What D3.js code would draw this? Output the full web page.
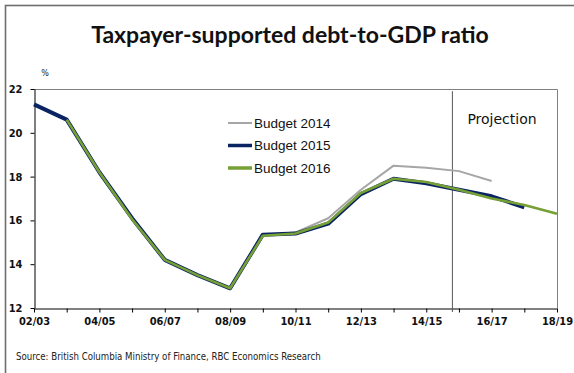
<!DOCTYPE html>
<html><head><meta charset="utf-8">
<script src="https://cdn.jsdelivr.net/npm/d3@7"></script>
<style>html,body{margin:0;padding:0;background:#fff;}svg{display:block;}</style>
</head><body>
<svg id="c" width="574" height="373"></svg>
<script>
const categories = ["02/03","03/04","04/05","05/06","06/07","07/08","08/09","09/10","10/11","11/12","12/13","13/14","14/15","15/16","16/17","17/18","18/19"];
const tickLabels = ["02/03","04/05","06/07","08/09","10/11","12/13","14/15","16/17","18/19"];
const yTicks = [12,14,16,18,20,22];
const budget2014 = [21.3,20.6,18.2,16.1,14.2,13.5,12.9,15.35,15.45,16.1,17.4,18.5,18.4,18.25,17.8,null,null];
const budget2015 = [21.3,20.6,18.2,16.1,14.2,13.5,12.9,15.35,15.4,15.85,17.2,17.9,17.7,17.4,17.1,16.6,null];
const budget2016 = [null,20.6,18.2,16.05,14.2,13.5,12.9,15.3,15.4,15.9,17.25,17.9,17.75,17.4,17.0,16.7,16.3];
const seriesNames = ["Budget 2014","Budget 2015","Budget 2016"];
const projectionIndex = 12.8;

const svg = d3.select("#c");
const W = 574, H = 373;
const m = {left:34, right:17, top:89, bottom:65};
const x = d3.scalePoint().domain(categories).range([m.left, W - m.right]);
const xi = d3.scaleLinear().domain([0, categories.length - 1]).range([m.left, W - m.right]);
const y = d3.scaleLinear().domain([12,22]).range([H - m.bottom, m.top]);

// outer frame
svg.append("rect").attr("x",5.5).attr("y",5.5).attr("width",W+10).attr("height",H+10)
  .attr("fill","#fff").attr("stroke","#6e6e6e").attr("stroke-width",1.6);

// title
svg.append("text").attr("x",290).attr("y",43).attr("text-anchor","middle")
  .attr("font-family","Lato, 'DejaVu Sans Condensed', sans-serif").attr("font-weight","bold")
  .attr("font-size",23).attr("fill","#111").text("Taxpayer-supported debt-to-GDP ratio");

svg.append("text").attr("x",45).attr("y",76).attr("text-anchor","middle")
  .attr("font-family","'DejaVu Sans', sans-serif").attr("font-size",8).attr("fill","#222").text("%");

// plot box (top/right)
svg.append("path").attr("fill","none").attr("stroke","#808080").attr("stroke-width",1)
  .attr("d",`M${m.left},${m.top+0.5}H${W-m.right+0.5}V${H-m.bottom}`);

// axes
const yAxis = svg.append("g").attr("transform",`translate(${m.left+0.5},0)`)
  .call(d3.axisLeft(y).tickValues(yTicks).tickSize(4).tickPadding(8).tickSizeOuter(0));
const xAxis = svg.append("g").attr("transform",`translate(0,${H-m.bottom+0.5})`)
  .call(d3.axisBottom(x).tickSize(4).tickSizeOuter(0).tickPadding(3)
    .tickFormat(d => tickLabels.includes(d) ? d : ""));
[yAxis,xAxis].forEach(g=>{
  g.selectAll("path,line").attr("stroke","#000");
  g.selectAll("text").attr("font-family","'DejaVu Sans Condensed', sans-serif")
    .attr("font-weight","bold").attr("font-size",11).attr("fill","#111");
});
xAxis.selectAll("text").attr("dy","0.9em");

// projection line
svg.append("line").attr("x1",xi(projectionIndex)).attr("x2",xi(projectionIndex))
  .attr("y1",y(21.9)).attr("y2",H-m.bottom+4).attr("stroke","#555").attr("stroke-width",1);
svg.append("text").attr("x",502).attr("y",124).attr("text-anchor","middle")
  .attr("font-family","'DejaVu Sans', sans-serif").attr("font-size",14).attr("fill","#111").text("Projection");

// lines
const line = d3.line().defined(d=>d!=null).x((d,i)=>x(categories[i])).y(d=>y(d));
const styles = [
  {data:budget2014, color:"#a6a6a6", width:2},
  {data:budget2015, color:"#0a2463", width:4},
  {data:budget2016, color:"#76a035", width:2.6}
];
styles.forEach(s=>{
  svg.append("path").datum(s.data).attr("fill","none").attr("stroke",s.color)
    .attr("stroke-width",s.width).attr("stroke-linejoin","round").attr("d",line);
});

// legend
const lg = svg.append("g");
styles.forEach((s,i)=>{
  const ly = 123 + i*22.5;
  lg.append("line").attr("x1",228).attr("x2",252).attr("y1",ly).attr("y2",ly)
    .attr("stroke",s.color).attr("stroke-width",s.width===2?2:3.5);
  lg.append("text").attr("x",254).attr("y",ly).attr("dy","0.36em")
    .attr("font-family","'Liberation Sans', Arial, sans-serif").attr("font-size",13.5)
    .attr("fill","#111").text(seriesNames[i]);
});

// source
svg.append("text").attr("x",16).attr("y",360)
  .attr("font-family","'DejaVu Sans Condensed', sans-serif").attr("font-size",9.6)
  .attr("fill","#222").text("Source: British Columbia Ministry of Finance, RBC Economics Research");
</script>
</body></html>
